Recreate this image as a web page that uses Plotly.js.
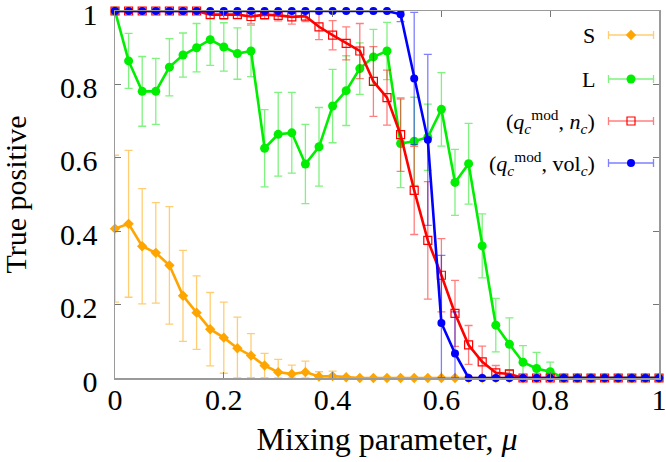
<!DOCTYPE html>
<html>
<head>
<meta charset="utf-8">
<script src="https://cdn.plot.ly/plotly-3.0.1.min.js"></script>
<style>html,body{margin:0;padding:0;background:#fff;}#chart{width:666px;height:462px;}</style>
</head>
<body>
<div id="chart"></div>
<script>
// ---- data ----
const mu = [0,0.025,0.05,0.075,0.1,0.125,0.15,0.175,0.2,0.225,0.25,0.275,0.3,0.325,0.35,0.375,0.4,0.425,0.45,0.475,0.5,0.525,0.55,0.575,0.6,0.625,0.65,0.675,0.7,0.725,0.75,0.775,0.8,0.825,0.85,0.875,0.9,0.925,0.95,0.975,1];

const S_val = [0.407,0.420,0.359,0.341,0.307,0.224,0.178,0.133,0.110,0.081,0.061,0.034,0.016,0.011,0.016,0.004,0.005,0.002,0,0,0,0,0,0,0,0,0,0,0,0,0,0,0,0,0,0,0,0,0,0,0];
const S_err = [0.2,0.2,0.157,0.137,0.16,0.124,0.1,0.1,0.097,0.085,0.06,0.033,0.035,0.024,0.03,0.013,0.014,0.004,0.002,0,0,0,0,0,0,0,0,0,0,0,0,0,0,0,0,0,0,0,0,0,0];

const L_val = [1.0,0.864,0.781,0.781,0.847,0.880,0.900,0.922,0.902,0.884,0.891,0.626,0.664,0.668,0.583,0.630,0.741,0.783,0.843,0.875,0.891,0.639,0.645,0.656,0.732,0.533,0.584,0.360,0.144,0.092,0.043,0.026,0.017,0,0,0,0,0,0,0,0];
const L_err = [0,0.075,0.095,0.09,0.078,0.06,0.066,0.07,0.066,0.07,0.07,0.105,0.114,0.11,0.108,0.107,0.1,0.095,0.07,0.075,0.078,0.12,0.12,0.09,0.1,0.09,0.11,0.087,0.073,0.072,0.045,0.044,0.026,0,0,0,0,0,0,0,0];

const N_val = [1,1,1,1,1,1,1,0.99,0.99,0.99,0.985,0.99,0.988,0.984,0.986,0.957,0.934,0.912,0.891,0.808,0.764,0.663,0.511,0.375,0.280,0.176,0.090,0.044,0.014,0.011,0,0,0,0,0,0,0,0,0,0,0];
const N_err = [0,0,0,0,0,0,0,0.01,0.012,0.01,0.02,0.012,0.015,0.02,0.015,0.035,0.04,0.045,0.075,0.095,0.075,0.1,0.12,0.16,0.1,0.09,0.053,0.043,0.02,0.01,0,0,0,0,0,0,0,0,0,0,0];

const V_val = [1,1,1,1,1,1,1,1,1,1,1,1,1,1,1,1,1,1,1,1,1,0.991,0.816,0.649,0.150,0.067,0,0,0,0,0,0,0,0,0,0,0,0,0,0,0];
const V_err = [0,0,0,0,0,0,0,0,0,0,0,0,0,0,0,0,0,0,0,0,0,0.02,0.18,0.233,0.184,0.113,0,0,0,0,0,0,0,0,0,0,0];

const seriesNames = ["S", "L", "(<i>q</i><sub><i>c</i></sub><sup>mod</sup>, <i>n</i><sub><i>c</i></sub>)", "(<i>q</i><sub><i>c</i></sub><sup>mod</sup>, vol<sub><i>c</i></sub>)"];
const tickVals = [0, 0.2, 0.4, 0.6, 0.8, 1];
const tickText = ['0', '0.2', '0.4', '0.6', '0.8', '1'];
const xTitle = "Mixing parameter, <i>μ</i>";
const yTitle = "True positive";

// ---- styles ----
const FONT = "Liberation Serif, Times New Roman, serif";
const styles = [
  {line:'#ffa500', bar:'rgba(255,165,0,0.55)', marker:{symbol:'diamond', size:8, color:'#ffa500'}},
  {line:'#00ee00', bar:'rgba(0,230,0,0.5)', marker:{symbol:'circle', size:9, color:'#00ee00'}},
  {line:'#ff0000', bar:'rgba(255,0,0,0.5)', marker:{symbol:'square-open', size:8, color:'#ff0000', line:{width:1.2}}},
  {line:'#0000ff', bar:'rgba(0,0,255,0.5)', marker:{symbol:'circle', size:8, color:'#0000ff'}}
];
const vals = [S_val, L_val, N_val, V_val];
const errs = [S_err, L_err, N_err, V_err];

function errY(y, e, color){
  return {
    type:'data', symmetric:false, visible:true,
    array: y.map((v,i)=> e[i] > 0 ? Math.min(e[i], 1 - v) : NaN),
    arrayminus: y.map((v,i)=> e[i] > 0 ? Math.min(e[i], v) : NaN),
    color: color, thickness: 1.3, width: 4
  };
}

const traces = [];
for (let k = 0; k < 4; k++) {
  traces.push({
    x: mu, y: vals[k], type:'scatter', mode:'lines+markers',
    line:{color: styles[k].line, width: 2.6},
    marker: styles[k].marker,
    error_y: errY(vals[k], errs[k], styles[k].bar),
    cliponaxis:false, showlegend:false, hoverinfo:'skip'
  });
}

// custom legend (sample on the right of the label), in pixel-like overlay axes
const PL = 115, PR = 659, PT = 11, PB = 378;
const legY = [35, 79, 121, 163];
const annotations = [];
for (let k = 0; k < 4; k++) {
  traces.push({
    x:[631], y:[legY[k]], xaxis:'x2', yaxis:'y2', type:'scatter', mode:'markers',
    marker: styles[k].marker,
    error_x:{type:'data', array:[22.5], color: styles[k].bar, thickness:1.3, width:4},
    cliponaxis:false, showlegend:false, hoverinfo:'skip'
  });
  annotations.push({
    xref:'x2', yref:'y2', x:597, y:legY[k], xanchor:'right', yanchor:'middle',
    text: seriesNames[k], showarrow:false, font:{family:FONT, size:22, color:'#000'}
  });
}
// y-axis title placed as a rotated annotation (paper coords)
annotations.push({
  xref:'paper', yref:'paper', x:(15 - PL) / (PR - PL), y:0.5, xanchor:'center', yanchor:'middle',
  textangle:-90, text:yTitle, showarrow:false, font:{family:FONT, size:30, color:'#000'}
});

const axisCommon = {
  showline:true, linecolor:'#9a9a9a', linewidth:1.5, mirror:'ticks',
  ticks:'inside', ticklen:6, tickcolor:'#777', tickwidth:1,
  showgrid:false, zeroline:false, ticklabeloverflow:'allow',
  tickfont:{family:FONT, size:30, color:'#000'}
};

const layout = {
  width:666, height:462,
  margin:{l:PL, r:666-PR, t:PT, b:462-PB},
  paper_bgcolor:'#fff', plot_bgcolor:'#fff',
  xaxis: Object.assign({}, axisCommon, {
    range:[0,1], tickvals:tickVals, ticktext:tickText,
    ticklabelstandoff:-6,
    title:{text:xTitle, font:{family:FONT, size:32, color:'#000'}, standoff:13}
  }),
  yaxis: Object.assign({}, axisCommon, {
    range:[0,1], tickvals:tickVals, ticktext:tickText,
    ticklabelstandoff:10, ticklabelshift:3
  }),
  xaxis2:{overlaying:'x', anchor:'y2', range:[PL,PR], visible:false, fixedrange:true},
  yaxis2:{overlaying:'y', anchor:'x2', range:[PB,PT], visible:false, fixedrange:true},
  annotations: annotations,
  showlegend:false
};

Plotly.newPlot('chart', traces, layout, {displayModeBar:false, staticPlot:true});
</script>
</body>
</html>
